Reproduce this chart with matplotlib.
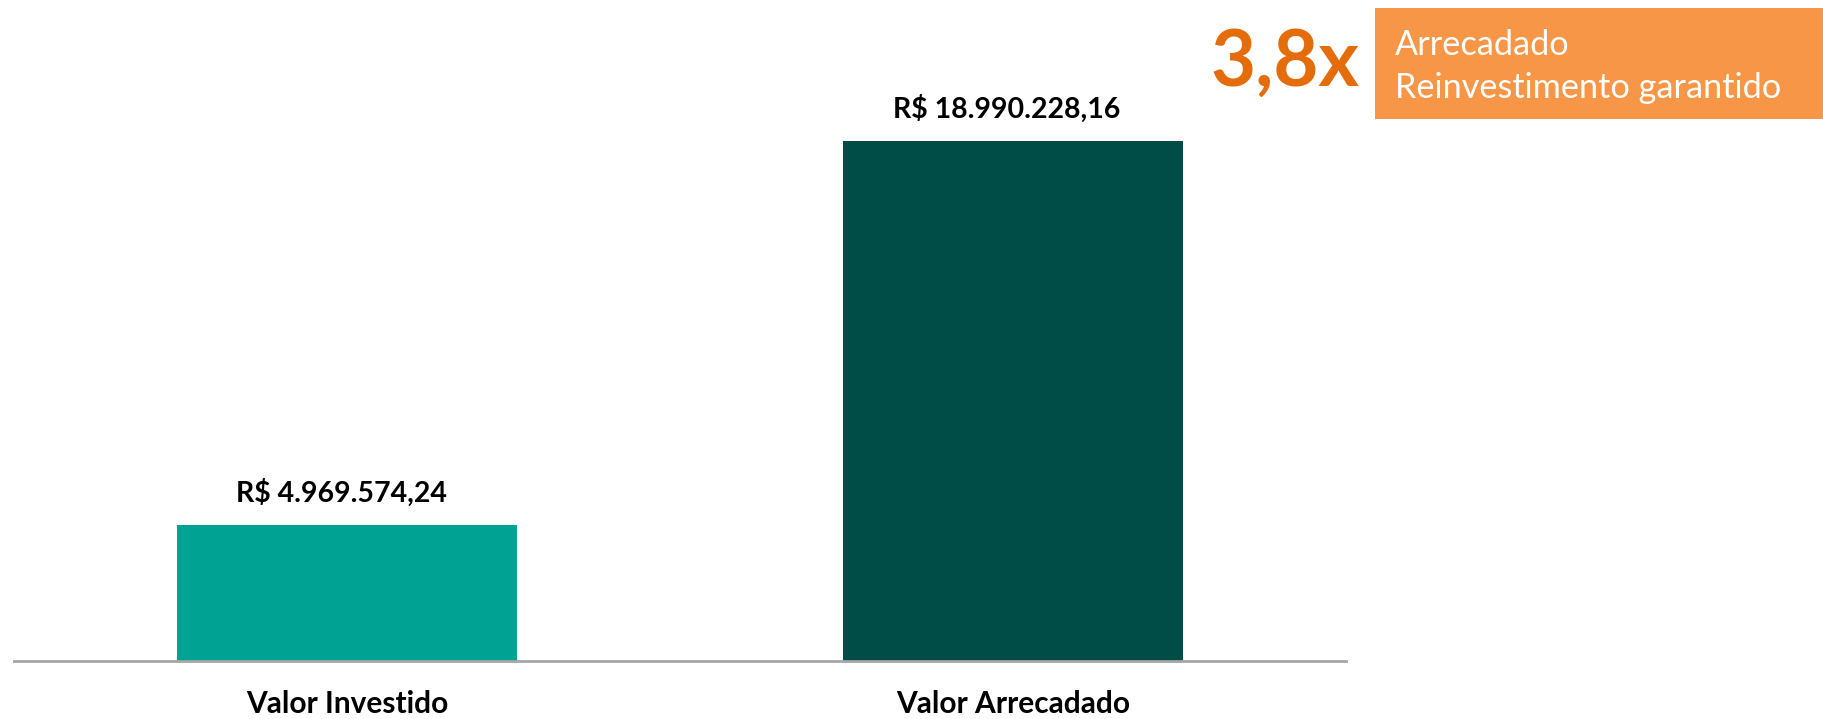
import matplotlib
matplotlib.use("Agg")
import matplotlib.pyplot as plt
from matplotlib.patches import Rectangle

categories = ["Valor Investido", "Valor Arrecadado"]
values = [4969574.24, 18990228.16]
value_labels = ["R$ 4.969.574,24", "R$ 18.990.228,16"]
bar_colors = ["#00A294", "#004D47"]
multiplier_text = "3,8x"
box_lines = ["Arrecadado", "Reinvestimento garantido"]

W, H = 1824, 719
fig = plt.figure(figsize=(W / 100, H / 100), dpi=100)
fig.patch.set_facecolor("white")

ax = fig.add_axes([14 / W, 58 / H, (1346 - 14) / W, 661 / H])
x = list(range(len(categories)))
ax.bar(x, values, width=0.512, color=bar_colors)
ax.set_xlim(-0.5, 1.5)
ax.set_ylim(0, values[1] * 661 / 520)

for xi, v, lab in zip(x, values, value_labels):
    ax.annotate(lab, (xi, v), xytext=(-6, 32), textcoords="offset pixels",
                ha="center", va="center", fontsize=20.5, fontweight="bold",
                family="Lato", color="black")

for s in ["top", "right", "left"]:
    ax.spines[s].set_visible(False)
ax.spines["bottom"].set_color("#A6A6A6")
ax.spines["bottom"].set_linewidth(2)
ax.set_yticks([])
ax.set_xticks(x)
ax.set_xticklabels(categories, fontsize=21.5, fontweight="bold", family="Lato")
ax.tick_params(axis="x", length=0, pad=21)

# Orange callout box
fig.patches.append(Rectangle((1375 / W, 1 - 119 / H), (1824 - 1375) / W, (119 - 8) / H,
                             transform=fig.transFigure, facecolor="#F79646",
                             edgecolor="none", zorder=1))
fig.text(1395 / W, 1 - 45 / H, box_lines[0], ha="left", va="center",
         fontsize=24.7, color="white", family="Lato")
fig.text(1395 / W, 1 - 88 / H, box_lines[1], ha="left", va="center",
         fontsize=24.7, color="white", family="Lato")
fig.text(1359 / W, 1 - 64 / H, multiplier_text, ha="right", va="center",
         fontsize=56, fontweight="bold", color="#E46C0A", family="Lato")

fig.savefig("out.png", dpi=100)
